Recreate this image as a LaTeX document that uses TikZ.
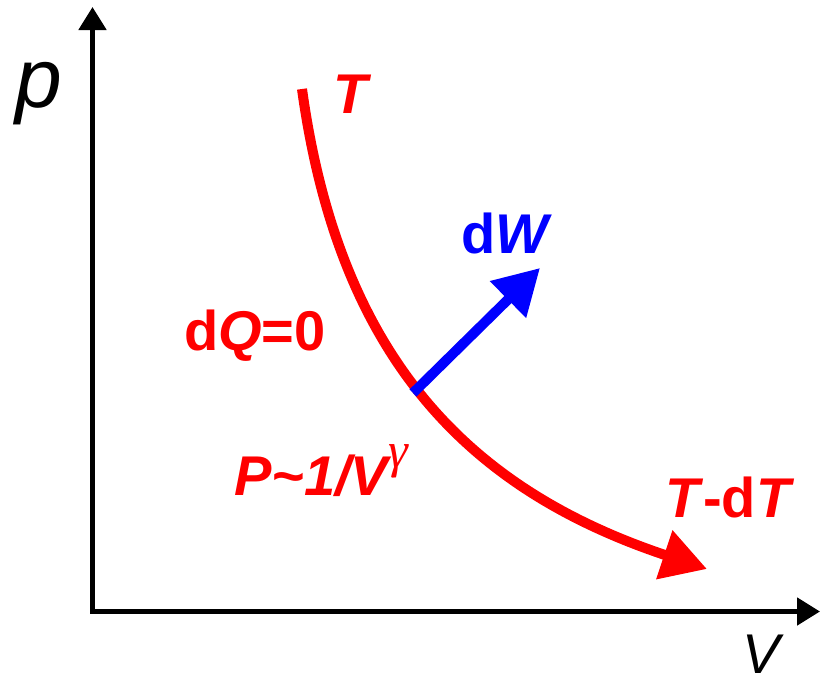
\documentclass[tikz,border=0pt]{standalone}
\usepackage{fontspec}
\setmainfont{Liberation Sans}
\newfontfamily\gfont{Liberation Serif}
\usetikzlibrary{arrows.meta}
\definecolor{myred}{RGB}{255,0,0}
\definecolor{myblue}{RGB}{0,0,255}
\tikzset{
  axisline/.style={line width=5pt, line join=miter,
    {Triangle[length=23pt,width=27pt]}-{Triangle[length=23pt,width=27pt]}},
  bigarrow/.style={line width=10pt, -{Triangle[length=45pt,width=49pt]}},
  lbl/.style={anchor=base west, inner sep=0pt, outer sep=0pt},
  axlbl/.style={lbl, font=\fontsize{84}{84}\selectfont\itshape},
  redlbl/.style={lbl, text=myred, font=\fontsize{56}{56}\selectfont\bfseries},
  bluelbl/.style={lbl, text=myblue, font=\fontsize{56}{56}\selectfont\bfseries}
}
\begin{document}
\begin{tikzpicture}[x=1pt,y=-1pt]
\useasboundingbox (0,0) rectangle (824,675);
% axes
\coordinate (ytop) at (92.5,7);
\coordinate (origin) at (92.5,611.5);
\coordinate (xend) at (820,611.5);
\draw[axisline] (ytop) -- (origin) -- (xend);
\node[axlbl] (plabel) at (16,107) {p};
\node[axlbl, font=\fontsize{56}{56}\selectfont\itshape] (vlabel) at (742,673) {V};
% adiabat
\coordinate (cstart) at (302,89);
\coordinate (cend) at (707,569);
\draw[bigarrow, myred] (cstart) .. controls (339.6,361.6) and (471.8,490.6) .. (cend);
% work arrow
\coordinate (wstart) at (413,393);
\coordinate (wend) at (540,268);
\draw[bigarrow, myblue] (wstart) -- (wend);
% labels
\node[redlbl] (tlabel) at (333,113) {\itshape T};
\node[bluelbl] (dwlabel) at (461,253) {d\textit{W}};
\node[redlbl] (dqlabel) at (184,350) {d\textit{Q}=0};
\node[redlbl] (plaw) at (234,495) {\itshape P\char"007E 1/V\raisebox{28pt}{\fontsize{50}{50}\selectfont\mdseries\gfont\itshape γ}};
\node[redlbl] (tdt) at (665,517) {\textit{T}-d\textit{T}};
\end{tikzpicture}
\end{document}
